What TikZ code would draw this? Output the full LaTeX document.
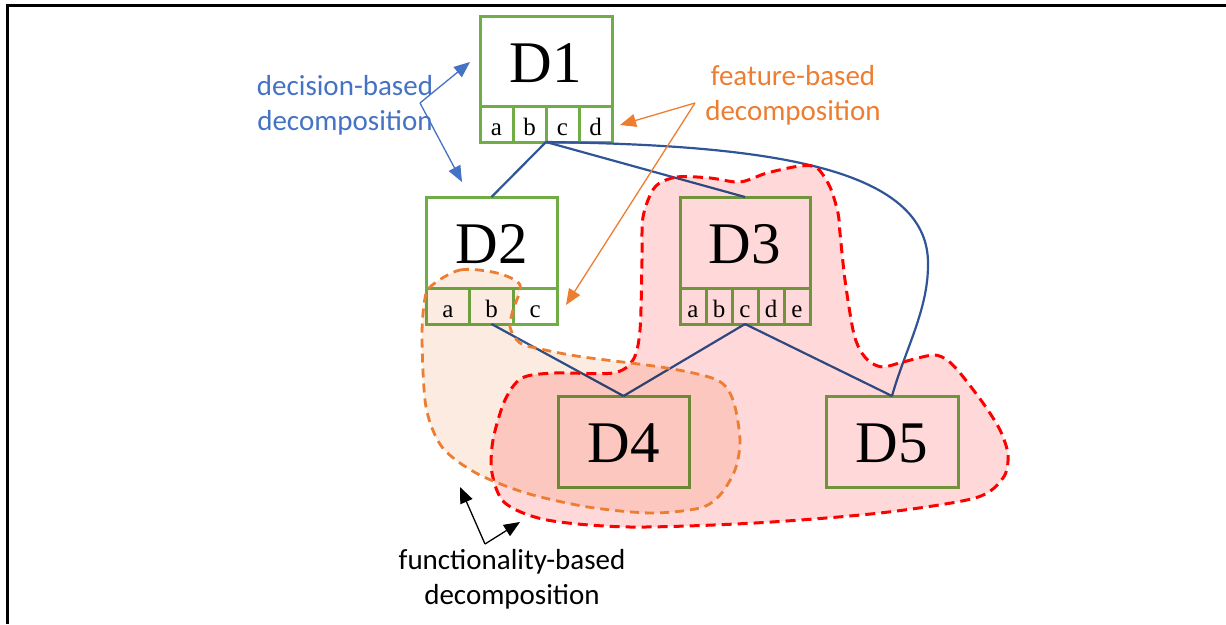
\documentclass[tikz,border=0pt]{standalone}
\usepackage{fontspec}
\setmainfont{Liberation Serif}
\newfontfamily\notefont{Carlito}
\usetikzlibrary{positioning,arrows.meta}
\definecolor{boxgreen}{HTML}{70AD47}
\definecolor{linkblue}{HTML}{2F5597}
\definecolor{decblue}{HTML}{4472C4}
\definecolor{featorange}{HTML}{ED7D31}
\definecolor{funcpink}{HTML}{FFD9D9}
\definecolor{featpeach}{HTML}{FCEBE0}
\tikzset{x=1pt, y=-1pt, % pixel-like units, y going down
dbox/.style={draw=boxgreen, line width=3pt, fill=white, inner sep=0pt, outer sep=0pt,
  text height=42pt, text depth=0pt, font=\fontsize{59}{59}\selectfont}, % a decision box
cell/.style={draw=boxgreen, line width=3pt, fill=white, inner sep=0pt, outer sep=0pt,
  minimum height=36pt, text height=22pt, text depth=0pt, font=\fontsize{25}{25}\selectfont}, % a feature cell
link/.style={draw=linkblue, line width=2.2pt}, % edges between decisions
note/.style={font=\notefont\fontsize{29}{35}\selectfont, align=center, inner sep=0pt},
hint/.style={line width=1.3pt, -{Triangle[length=16pt,width=13pt]}}, % annotation arrows
}

\begin{document}
\begin{tikzpicture}
\useasboundingbox (0,0) rectangle (1226,624);
\draw[line width=3pt] (1226,5) -- (7,5) -- (7,624);

% decisions
\node[dbox, minimum width=132pt, minimum height=90pt] (D1) at (546,61) {D1};
\node[dbox, minimum width=131pt, minimum height=91pt] (D2) at (491.5,242.5) {D2};
\node[dbox, minimum width=130pt, minimum height=91pt] (D3) at (745,242.5) {D3};
\node[dbox, minimum width=131pt, minimum height=91pt] (D4) at (623.5,441.5) {D4};
\node[dbox, minimum width=132pt, minimum height=91pt] (D5) at (892,441.5) {D5};

% features
\node[cell, minimum width=33pt, below right=0pt and 0pt of D1.south west] (D1a) {a};
\node[cell, minimum width=33pt, right=0pt of D1a] (D1b) {b};
\node[cell, minimum width=33pt, right=0pt of D1b] (D1c) {c};
\node[cell, minimum width=33pt, right=0pt of D1c] (D1d) {d};
\node[cell, minimum width=43.67pt, below right=0pt and 0pt of D2.south west] (D2a) {a};
\node[cell, minimum width=43.67pt, right=0pt of D2a] (D2b) {b};
\node[cell, minimum width=43.67pt, right=0pt of D2b] (D2c) {c};
\node[cell, minimum width=26pt, below right=0pt and 0pt of D3.south west] (D3a) {a};
\node[cell, minimum width=26pt, right=0pt of D3a] (D3b) {b};
\node[cell, minimum width=26pt, right=0pt of D3b] (D3c) {c};
\node[cell, minimum width=26pt, right=0pt of D3c] (D3d) {d};
\node[cell, minimum width=26pt, right=0pt of D3d] (D3e) {e};

\draw[link] (D1b.south east) -- (D2.north);
\draw[link] (D1b.south east) -- (D3.north);
\draw[link] (D1b.south east) .. controls (760,145) and (930,165) .. (928,265)
  .. controls (928,310) and (905,350) .. (D5.north);
\draw[link] (D2b.south) -- (D4.north);
\draw[link] (D3c.south) -- (D4.north);
\draw[link] (D3c.south) -- (D5.north);

% decompositions
\begin{scope}[blend mode=multiply]
\fill[funcpink, save path=\funcblob] plot[smooth cycle] coordinates {(655,187) (677,177) (710,178)
  (740,182) (767,173) (800,166) (817,168) (830,187) (838,213) (840,233) (845,280) (853,330)
  (860,350) (870,362) (883,367) (903,362) (933,355) (947,360) (960,373) (983,403) (1000,430)
  (1008,455) (1003,478) (975,498) (880,513) (755,523) (630,527) (547,520) (505,503) (492,473)
  (493,440) (505,400) (522,378) (555,373) (613,373) (633,360) (640,330) (642,260) (643,217)};
\fill[featpeach, save path=\featblob] plot[smooth cycle] coordinates {(430,287) (460,270) (497,273)
  (520,285) (513,310) (510,327) (520,343) (545,350) (583,357) (667,368) (717,380) (733,400)
  (740,440) (735,470) (720,495) (700,508) (651,513) (588,507) (526,493) (476,473) (442,447)
  (426,407) (422,340) (424,305)};
\end{scope}
\draw[red, line width=3pt, dash pattern=on 10pt off 6pt, use path=\funcblob];
\draw[featorange, line width=2.8pt, dash pattern=on 9pt off 6pt, use path=\featblob];

% annotations
\node[note, text=decblue] (decNote) at (345,105) {decision-based\\decomposition};
\coordinate (decFork) at (420,103);
\coordinate (decUp) at (470,62);
\coordinate (decDown) at (462,182);
\draw[hint, decblue] (decFork) -- (decUp);
\draw[hint, decblue] (decFork) -- (decDown);

\node[note, text=featorange] (featNote) at (793,95) {feature-based\\decomposition};
\coordinate (featFork) at (695,103);
\coordinate (featUp) at (620,125);
\coordinate (featDown) at (566,305);
\draw[hint, featorange] (featFork) -- (featUp);
\draw[hint, featorange] (featFork) -- (featDown);

\node[note] (funcNote) at (512,579) {functionality-based\\decomposition};
\coordinate (funcFork) at (485,544);
\coordinate (funcUp) at (460,487);
\coordinate (funcRight) at (520,522);
\draw[hint] (funcFork) -- (funcUp);
\draw[hint] (funcFork) -- (funcRight);
\end{tikzpicture}
\end{document}
